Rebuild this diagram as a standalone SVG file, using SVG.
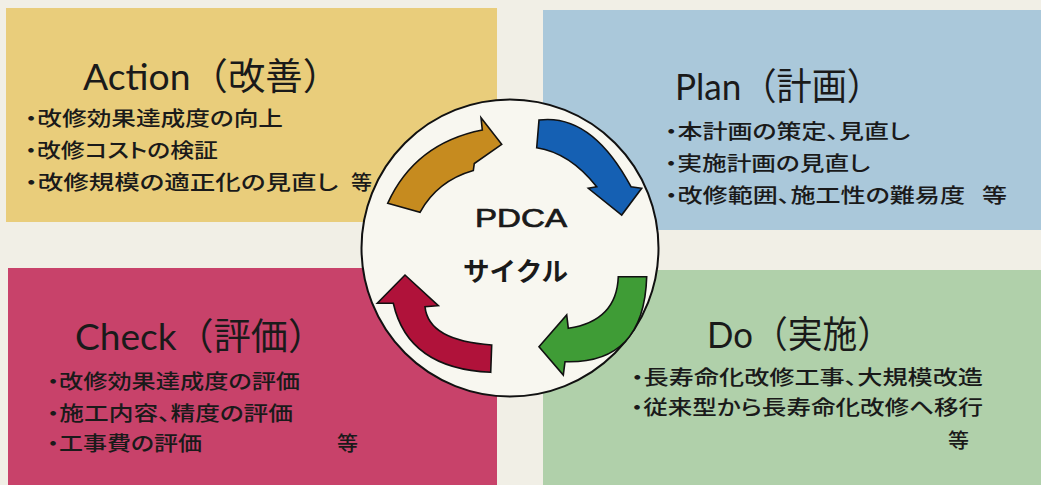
<svg xmlns="http://www.w3.org/2000/svg" width="1041" height="485" viewBox="0 0 1041 485">
<style>
.title{font-family:"Lato","Noto Sans CJK JP",sans-serif;font-size:37px;fill:#1a1a1a}
.item{font-family:"Noto Sans CJK JP",sans-serif;font-size:20px;font-weight:500;fill:#1a1a1a}
.hw{font-feature-settings:"palt" 1}
.arrow{stroke:#111;stroke-width:1.6;stroke-linejoin:miter}
.center{font-family:"Liberation Sans","Noto Sans CJK JP",sans-serif;fill:#1a1a1a}
</style>
<rect x="0" y="0" width="1041" height="485" fill="#f1efe6"/>

<g id="node-action">
<rect x="6" y="8" width="491" height="214" fill="#e9cd7b"/>
<text class="title" x="83" y="90" textLength="257" lengthAdjust="spacingAndGlyphs">Action（改善）</text>
<text class="item hw" x="25" y="126" textLength="258" lengthAdjust="spacingAndGlyphs">・改修効果達成度の向上</text>
<text class="item hw" x="25" y="158" textLength="193" lengthAdjust="spacingAndGlyphs">・改修コストの検証</text>
<text class="item hw" x="25" y="190" textLength="313" lengthAdjust="spacingAndGlyphs">・改修規模の適正化の見直し</text>
<text class="item" x="351" y="190" textLength="21" lengthAdjust="spacingAndGlyphs">等</text>
</g>

<g id="node-plan">
<rect x="543" y="10" width="498" height="220" fill="#aac8da"/>
<text class="title" x="675" y="100" textLength="207" lengthAdjust="spacingAndGlyphs">Plan（計画）</text>
<text class="item hw" x="665" y="139" textLength="245" lengthAdjust="spacingAndGlyphs">・本計画の策定、見直し</text>
<text class="item hw" x="665" y="171" textLength="205" lengthAdjust="spacingAndGlyphs">・実施計画の見直し</text>
<text class="item hw" x="665" y="203" textLength="300" lengthAdjust="spacingAndGlyphs">・改修範囲、施工性の難易度</text>
<text class="item" x="982" y="203" textLength="25" lengthAdjust="spacingAndGlyphs">等</text>
</g>

<g id="node-check">
<rect x="8" y="268" width="489" height="217" fill="#c8426a"/>
<text class="title" x="75" y="350" textLength="250" lengthAdjust="spacingAndGlyphs">Check（評価）</text>
<text class="item hw" x="47" y="389" textLength="253" lengthAdjust="spacingAndGlyphs">・改修効果達成度の評価</text>
<text class="item hw" x="47" y="421" textLength="246" lengthAdjust="spacingAndGlyphs">・施工内容、精度の評価</text>
<text class="item hw" x="47" y="451" textLength="155" lengthAdjust="spacingAndGlyphs">・工事費の評価</text>
<text class="item" x="337" y="451" textLength="21" lengthAdjust="spacingAndGlyphs">等</text>
</g>

<g id="node-do">
<rect x="543" y="270" width="498" height="215" fill="#b0d0aa"/>
<text class="title" x="707" y="348" textLength="185" lengthAdjust="spacingAndGlyphs">Do（実施）</text>
<text class="item hw" x="631" y="385" textLength="352" lengthAdjust="spacingAndGlyphs">・長寿命化改修工事、大規模改造</text>
<text class="item hw" x="631" y="415" textLength="352" lengthAdjust="spacingAndGlyphs">・従来型から長寿命化改修へ移行</text>
<text class="item" x="948" y="448" textLength="21" lengthAdjust="spacingAndGlyphs">等</text>
</g>

<g id="node-cycle">
<circle cx="510" cy="248" r="148.5" fill="#f8f7f0" stroke="#111" stroke-width="2"/>
<text class="center" x="475" y="226.5" font-size="25" stroke="#1a1a1a" stroke-width="0.7" textLength="92" lengthAdjust="spacingAndGlyphs">PDCA</text>
<text class="center" x="463" y="281" font-size="26" textLength="105" lengthAdjust="spacingAndGlyphs" style="font-family:'Noto Sans CJK JP',sans-serif;font-weight:700">サイクル</text>
</g>

<g id="connectors">
<path class="arrow" fill="#c68b1f" d="M387.7,203.3 L420,212.3 Q437.3,180.8 473.3,170.5 L474.3,163.5 L501.7,144.3 L481,117.7 L482.3,130 Q415,143.3 387.7,203.3 Z"/>
<path class="arrow" fill="#1560b3" d="M539,120 L536.7,147.7 Q569.9,152.8 596.7,186.7 L588.3,188.3 L621.7,215 L641.7,188.3 L631,186.7 Q591.6,113.3 539,120 Z"/>
<path class="arrow" fill="#3f9c36" d="M646.7,276.7 L618.3,276.7 Q616.7,320.9 568.3,328.3 L566.7,315 L539,346.7 L563.3,375 L565,361.7 Q644.1,364.2 646.7,276.7 Z"/>
<path class="arrow" fill="#b0123a" d="M491.7,345 L490.7,372.3 Q408,368.8 393.3,303.3 L377.3,303.3 L405,275 L438.3,305.7 L425,306.7 Q428.25,340.75 491.7,345 Z"/>
</g>
</svg>
